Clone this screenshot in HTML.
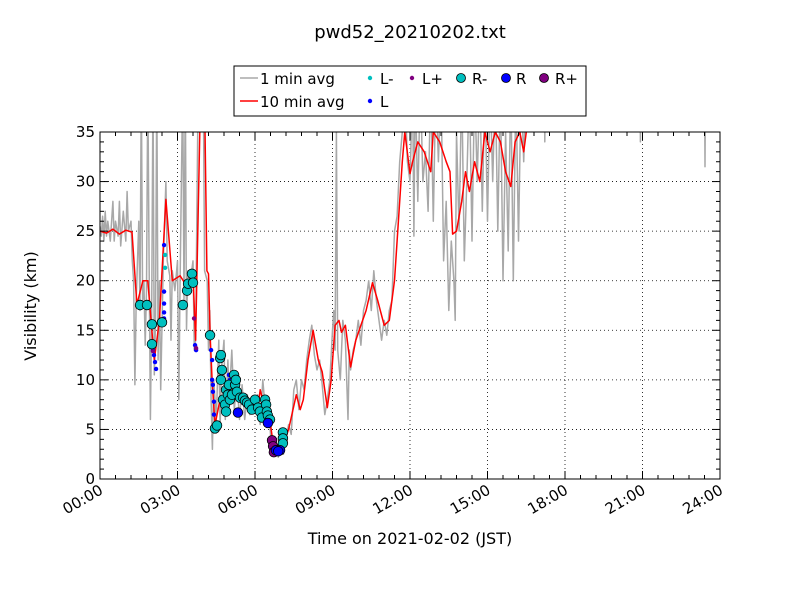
<!DOCTYPE html>
<html><head><meta charset="utf-8"><style>
body{margin:0;background:#fff;font-family:"Liberation Sans","DejaVu Sans",sans-serif;}
svg text{font-family:"DejaVu Sans","Liberation Sans",sans-serif;}
</style></head><body>
<svg id="chart" width="800" height="600" xmlns="http://www.w3.org/2000/svg">
<rect width="800" height="600" fill="#fff"/>
<text x="410" y="38" font-size="18" text-anchor="middle">pwd52_20210202.txt</text>
<defs><clipPath id="clip"><rect x="100" y="132" width="620" height="347"/></clipPath></defs>
<g id="grid"></g>
<g id="series" clip-path="url(#clip)"></g>
<g id="markers"></g>
<rect x="100" y="132" width="620" height="347" fill="none" stroke="#000" stroke-width="1"/>
<g id="axes"></g>
<text x="410" y="544" font-size="16" text-anchor="middle">Time on 2021-02-02 (JST)</text>
<text transform="translate(36,306) rotate(-90)" font-size="16" text-anchor="middle">Visibility (km)</text>
<g>
<rect x="234" y="66" width="352" height="50" fill="#fff" stroke="#000"/>
<line x1="240" y1="78" x2="258" y2="78" stroke="#a8a8a8" stroke-width="1.5"/>
<text x="260" y="84" font-size="15">1 min avg</text>
<line x1="240" y1="101" x2="258" y2="101" stroke="#f00" stroke-width="1.5"/>
<text x="260" y="107" font-size="15">10 min avg</text>
<circle cx="370" cy="78" r="2.2" fill="#00bfbf"/><text x="380" y="84" font-size="15">L-</text>
<circle cx="370" cy="101" r="2.2" fill="#0000ff"/><text x="380" y="107" font-size="15">L</text>
<circle cx="412" cy="78" r="2.2" fill="#800080"/><text x="422" y="84" font-size="15">L+</text>
<circle cx="461" cy="78" r="4.5" fill="#00bfbf" stroke="#000" stroke-width="0.8"/><text x="472" y="84" font-size="15">R-</text>
<circle cx="506" cy="78" r="4.5" fill="#0000ff" stroke="#000" stroke-width="0.8"/><text x="516" y="84" font-size="15">R</text>
<circle cx="544" cy="78" r="4.5" fill="#800080" stroke="#000" stroke-width="0.8"/><text x="555" y="84" font-size="15">R+</text>
</g>
</svg>
<script>
const xTickLabels=["00:00","03:00","06:00","09:00","12:00","15:00","18:00","21:00","24:00"];
const yTickLabels=["0","5","10","15","20","25","30","35"];
const oneMinT=[0,0.05,0.1,0.15,0.2,0.25,0.3,0.4,0.5,0.55,0.6,0.7,0.75,0.8,0.9,1.0,1.05,1.1,1.2,1.25,1.3,1.35,1.4,1.5,1.55,1.6,1.65,1.7,1.75,1.8,1.85,1.9,1.95,2.0,2.05,2.1,2.15,2.2,2.25,2.3,2.35,2.45,2.5,2.55,2.6,2.7,2.75,2.8,2.9,3.0,3.05,3.1,3.2,3.25,3.3,3.35,3.4,3.5,3.6,3.65,3.7,3.8,3.9,4.0,4.05,4.15,4.2,4.25,4.3,4.35,4.4,4.5,4.6,4.65,4.7,4.8,4.85,4.95,5.0,5.1,5.2,5.3,5.4,5.5,5.6,5.7,5.8,5.9,6.0,6.1,6.2,6.3,6.4,6.5,6.6,6.7,6.8,6.9,7.0,7.1,7.2,7.3,7.4,7.5,7.6,7.7,7.8,7.9,8.0,8.1,8.2,8.3,8.4,8.5,8.6,8.7,8.8,8.9,9.0,9.05,9.1,9.15,9.2,9.3,9.4,9.5,9.6,9.65,9.7,9.8,9.9,10.0,10.1,10.2,10.3,10.4,10.5,10.6,10.7,10.8,10.9,11.0,11.1,11.2,11.3,11.4,11.5,11.6,11.7,11.8,11.9,12.0,12.1,12.15,12.2,12.3,12.4,12.5,12.6,12.7,12.8,12.9,13.0,13.1,13.2,13.3,13.4,13.5,13.6,13.7,13.75,13.8,13.9,14.0,14.1,14.2,14.3,14.4,14.5,14.6,14.7,14.8,14.9,15.0,15.1,15.2,15.3,15.4,15.5,15.6,15.7,15.8,15.9,16.0,16.1,16.2,16.3,16.4,16.5,17.0,17.2,17.22,17.24,18.0,19.0,20.0,20.9,20.92,20.94,22.0,23.4,23.42,23.44,24];
const oneMinV=[25.5,24.5,26.5,24,27,24.5,26,24,28,24,26,24.5,28,23.5,27,24,29,25,26,22,20,9.5,18,26,17,40,18,20,13.5,19,40,22,6,17,40,10.5,16,40,12,20,9,22,26,30,22,20.5,14,21,19,22,8,20,40,18,40,15,21,20,22,13,14,40,40,40,21,20,13,17,8,3,10,6,14,5,11,14,6,12,8,13,7,10,6,9.5,6,8.5,6.5,8,7,8.5,5.5,10,7,8,4.5,2.5,3.5,2.2,3,2.5,4,5.5,4.5,9,10,7,10,9,12,14,15.5,12.5,11,12,9.5,6.5,8,10,15,17,13,35,13,10,16,14,6,13,11,13,14,16,13.5,17,18,20,17,21,18,16,14,16,14.5,17,18,25,26.5,32,35,40,32,30,40,24.5,40,28,40,30,33,27,40,26,40,32,40,22,28,17,24,20,16,35,25,40,22,30,40,24,40,30,40,27,40,26,40,30,40,25,40,20,35,23,40,20,40,24,40,32,40,40,40,34,40,40,40,40,40,34,40,40,40,31.5,40,40];
const tenMinT=[0,0.25,0.5,0.75,1.0,1.24,1.43,1.66,1.85,2.1,2.3,2.55,2.8,3.1,3.4,3.6,3.7,3.87,4.06,4.14,4.2,4.26,4.34,4.45,4.65,4.84,5.03,5.4,5.8,6.1,6.2,6.39,6.6,6.73,7.0,7.3,7.6,7.75,7.87,8.05,8.25,8.45,8.6,8.8,8.95,9.1,9.25,9.35,9.5,9.7,9.9,10.1,10.3,10.55,10.75,11.0,11.2,11.4,11.55,11.7,11.8,12.0,12.1,12.3,12.55,12.8,12.9,13.15,13.4,13.55,13.65,13.8,14.0,14.15,14.3,14.5,14.7,14.9,15.1,15.3,15.5,15.7,15.9,16.07,16.25,16.4,16.5];
const tenMinV=[25,24.8,25.2,24.7,25.1,24.9,17.6,20,20,12,16,28.2,20,20.5,19.3,20.6,14,36,36,21,20.7,14.5,10,5.5,8,7,9.5,8,7.5,7,9,7,5.5,3,2.8,5,8.5,7,8,12,15,12,10.8,7.2,10,15.5,16,14.8,15.5,11.3,14,15.5,17,19.8,18,15.5,16,20,26,32,35,30.8,32,34,33,31,35,34,32,31,24.7,25,28,31,29,32,30,35,33,35,34,31,29.5,34,35,33,35];
const rMinusT=[1.55,1.82,2.01,2.01,2.40,3.21,3.37,3.41,3.56,3.60,4.26,4.45,4.53,4.65,4.68,4.72,4.68,4.76,4.88,4.84,4.95,5.03,4.88,4.99,5.11,5.23,5.19,5.26,5.30,5.42,5.54,5.61,5.69,5.77,5.88,6.00,6.12,6.19,6.27,6.39,6.43,6.46,6.50,6.58,7.08,7.08,7.08];
const rMinusV=[17.55,17.55,15.6,13.6,15.8,17.55,19.0,19.7,20.7,19.8,14.5,5.1,5.4,12.2,12.5,11.0,10.0,8.0,9.0,7.5,8.5,8.0,6.8,9.5,8.5,9.5,10.5,10.0,8.8,8.2,8.2,7.9,7.7,7.5,7.0,8.0,7.2,6.8,6.2,8.0,7.5,6.8,6.4,6.0,4.7,4.1,3.6];
const lMinusT=[2.52,2.52];
const lMinusV=[22.6,21.3];
const lT=[2.05,2.09,2.13,2.17,2.48,2.48,2.48,2.48,2.48,3.68,3.72,4.30,4.34,4.34,4.37,4.37,4.41,4.41,4.99,5.03];
const lV=[13.0,12.5,11.8,11.1,23.6,18.9,17.7,16.8,16.2,13.5,13.0,13.0,12.0,10.0,9.5,8.8,7.8,6.5,10.5,10.0];
const lPlusT=[2.05,3.64,3.72];
const lPlusV=[12.9,16.2,13.2];
const rT=[5.34,6.50,6.81,6.97,6.90];
const rV=[6.7,5.65,2.9,2.9,2.8];
const rPlusT=[6.66,6.70,6.73];
const rPlusV=[3.9,3.3,2.7];

const NS="http://www.w3.org/2000/svg";
const X0=100,X1=720,Y0=479,Y1=132;
const xs=h=>X0+(X1-X0)*h/24;
const ys=v=>Y0-(Y0-Y1)*v/35;
function mk(tag,attrs,parent){const e=document.createElementNS(NS,tag);for(const k in attrs)e.setAttribute(k,attrs[k]);parent.appendChild(e);return e;}
const grid=document.getElementById('grid'),axes=document.getElementById('axes'),series=document.getElementById('series'),markers=document.getElementById('markers');
// grid + ticks
xTickLabels.forEach((lab,i)=>{const x=xs(i*3);
 if(i>0&&i<8){const g=mk('line',{x1:x,x2:x,y1:Y1,y2:Y0,stroke:'#000','stroke-dasharray':'1,3','stroke-width':0.8},grid);
 
 }
 mk('line',{x1:x,x2:x,y1:Y0,y2:Y0-8,stroke:'#000'},axes);mk('line',{x1:x,x2:x,y1:Y1,y2:Y1+8,stroke:'#000'},axes);
 const t=mk('text',{x:x+4,y:Y0+14,'font-size':15,'text-anchor':'end',transform:`rotate(-30 ${x+4} ${Y0+14})`},axes);
 
 
 t.textContent=lab;});
for(let k=0;k<40;k++){if(k%5===0)continue;const x=xs(k*0.6);mk('line',{x1:x,x2:x,y1:Y0,y2:Y0-4,stroke:'#000'},axes);mk('line',{x1:x,x2:x,y1:Y1,y2:Y1+4,stroke:'#000'},axes);}
yTickLabels.forEach((lab,i)=>{const y=ys(i*5);
 if(i>0&&i<7){const g=mk('line',{x1:X0,x2:X1,y1:y,y2:y,stroke:'#000','stroke-dasharray':'1,3','stroke-width':0.8},grid);
 
 }
 mk('line',{x1:X0,x2:X0+8,y1:y,y2:y,stroke:'#000'},axes);mk('line',{x1:X1,x2:X1-8,y1:y,y2:y,stroke:'#000'},axes);
 const t=mk('text',{x:X0-5,y:y+5,'font-size':15,'text-anchor':'end'},axes);
 
 
 t.textContent=lab;});
for(let v=1;v<35;v++){if(v%5===0)continue;const y=ys(v);mk('line',{x1:X0,x2:X0+4,y1:y,y2:y,stroke:'#000'},axes);mk('line',{x1:X1,x2:X1-4,y1:y,y2:y,stroke:'#000'},axes);}
function line(T,V,color,w,name){const d=T.map((t,i)=>(i?'L':'M')+xs(t).toFixed(1)+','+ys(V[i]).toFixed(1)).join('');
 const p=mk('path',{d:d,fill:'none',stroke:color,'stroke-width':w,'stroke-linejoin':'round'},series);
 
 }
line(oneMinT,oneMinV,'#a8a8a8',1.5,'one-min-avg-line');
line(tenMinT,tenMinV,'#ff0000',1.5,'ten-min-avg-line');
function pts(T,V,fill,r,stroke,name){T.forEach((t,i)=>{const c=mk('circle',{cx:xs(t),cy:ys(V[i]),r:r,fill:fill},markers);
 if(stroke){c.setAttribute('stroke','#000');c.setAttribute('stroke-width','0.8');}
 
 });}
pts(lMinusT,lMinusV,'#00bfbf',2.2,false,'l-minus-point');
pts(lT,lV,'#0000ff',2.2,false,'l-point');
pts(lPlusT,lPlusV,'#800080',2.2,false,'l-plus-point');
pts(rMinusT,rMinusV,'#00bfbf',4.8,true,'r-minus-point');
pts(rPlusT,rPlusV,'#800080',4.8,true,'r-plus-point');
pts(rT,rV,'#0000ff',4.8,true,'r-point');
</script>
</body></html>
